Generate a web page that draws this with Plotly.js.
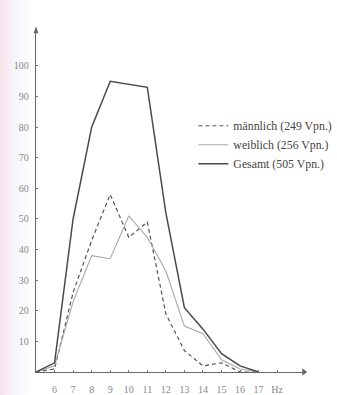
<!DOCTYPE html>
<html>
<head>
<meta charset="utf-8">
<script src="https://cdn.plot.ly/plotly-3.0.1.min.js"></script>
<style>
html,body{margin:0;padding:0;width:337px;height:395px;overflow:hidden;
background:linear-gradient(90deg, rgba(240,200,215,0.55) 0px, rgba(225,225,245,0.35) 14px, rgba(255,255,255,0) 32px),#ffffff;}
#chart{width:337px;height:395px;}
</style>
</head>
<body>
<div id="chart"></div>
<script>
// Frequency (Hz) categories
var freq = [5, 6, 7, 8, 9, 10, 11, 12, 13, 14, 15, 16, 17];
// counts per frequency
var maennlich = [0, 1, 26, 43, 58, 44, 49, 19, 7, 2, 3, 0, 0];
var weiblich  = [0, 2, 23, 38, 37, 51, 44, 33, 15, 12.5, 4, 1, 0];
var gesamt    = [0, 3, 50, 80, 95, 94, 93, 52, 21, 14, 6, 2, 0];
var names = ['männlich (249 Vpn.)', 'weiblich (256 Vpn.)', 'Gesamt (505 Vpn.)'];
var xTickVals = [6, 7, 8, 9, 10, 11, 12, 13, 14, 15, 16, 17, 18];
var xTickText = ['6', '7', '8', '9', '10', '11', '12', '13', '14', '15', '16', '17', 'Hz'];
var yTickVals = [10, 20, 30, 40, 50, 60, 70, 80, 90, 100];

var traces = [
  {x: freq, y: maennlich, name: names[0], mode: 'lines', type: 'scatter',
   line: {color: '#555555', width: 1.2, dash: '4px,3px'}},
  {x: freq, y: weiblich, name: names[1], mode: 'lines', type: 'scatter',
   line: {color: '#a8a8a8', width: 1.1}},
  {x: freq, y: gesamt, name: names[2], mode: 'lines', type: 'scatter',
   line: {color: '#4a4a4a', width: 1.5}}
];

var layout = {
  width: 337, height: 395,
  margin: {l: 36, r: 32, t: 28, b: 23, pad: 0, autoexpand: false},
  paper_bgcolor: 'rgba(0,0,0,0)',
  plot_bgcolor: 'rgba(0,0,0,0)',
  showlegend: true,
  legend: {x: 0.585, y: 0.758, xanchor: 'left', yanchor: 'top',
    bgcolor: 'rgba(0,0,0,0)', itemwidth: 30, tracegroupgap: 0,
    font: {family: 'Liberation Serif, serif', size: 11.8, color: '#444'}},
  xaxis: {range: [5, 19.5], showgrid: false, zeroline: false,
    showline: true, linecolor: '#666', linewidth: 1.3,
    tickmode: 'array', tickvals: xTickVals, ticktext: xTickText,
    ticks: 'inside', ticklen: 2, tickcolor: '#777',
    ticklabelstandoff: 8,
    tickfont: {family: 'Liberation Serif, serif', size: 10, color: '#888'}},
  yaxis: {range: [0, 112.4], showgrid: false, zeroline: false,
    showline: true, linecolor: '#666', linewidth: 1.3,
    tickmode: 'array', tickvals: yTickVals,
    ticks: 'inside', ticklen: 2, tickcolor: '#777',
    ticklabelstandoff: 4,
    tickfont: {family: 'Liberation Serif, serif', size: 10, color: '#888'}},
  shapes: [
    {type: 'path', xref: 'paper', yref: 'paper',
     path: 'M -0.009 0.985 L 0.009 0.985 L 0 1.004 Z',
     fillcolor: '#666', line: {width: 0}},
    {type: 'path', xref: 'paper', yref: 'paper',
     path: 'M 0.99 -0.011 L 0.99 0.011 L 1.008 0 Z',
     fillcolor: '#666', line: {width: 0}}
  ]
};

Plotly.newPlot('chart', traces, layout, {displayModeBar: false, staticPlot: true});
</script>
</body>
</html>
